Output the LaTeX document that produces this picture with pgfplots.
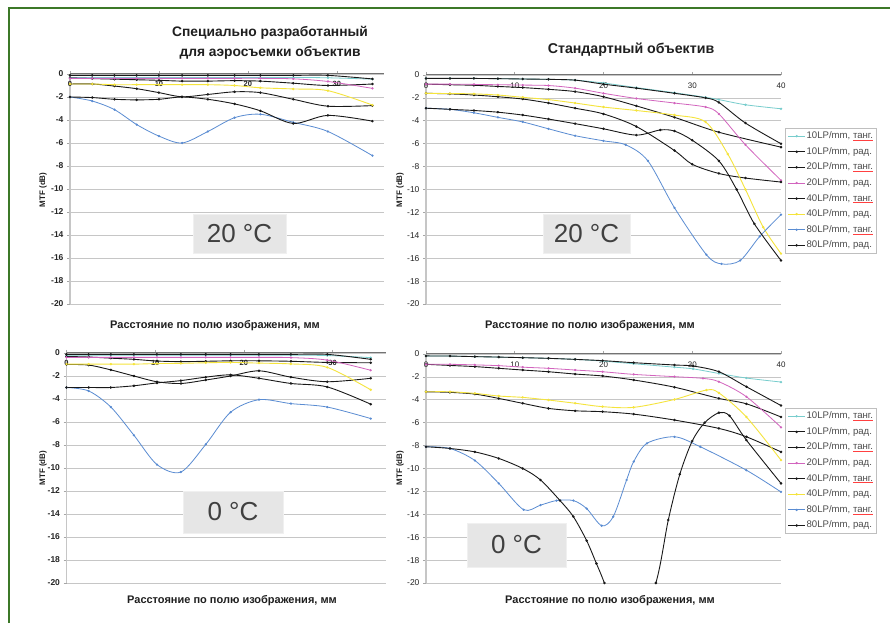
\documentclass[border=0pt]{standalone}
\usepackage{pgfplots}
\pgfplotsset{compat=1.18}
\usepackage{pgfplotstable}
\usepackage{fontspec}
\setmainfont{Liberation Sans}

\definecolor{cC}{RGB}{120,205,205}
\definecolor{cK}{RGB}{25,25,25}
\definecolor{cM}{RGB}{210,100,190}
\definecolor{cY}{RGB}{245,228,60}
\definecolor{cB}{RGB}{90,140,210}
\definecolor{frameG}{RGB}{60,120,40}
\definecolor{boxG}{RGB}{230,230,230}

\pgfplotsset{
  /pgf/number format/assume math mode=true,
  mtf/.style={
    scale only axis,
    ymin=-20, ymax=0,
    ytick={-20,-18,...,0},
    axis y line*=left,
    axis x line*=top,
    x axis line style={black!55, line width=1pt},
    y axis line style={gray!45, line width=1.4pt},
    tick style={gray!70, line width=0.6pt},
    tick align=outside,
    major tick length=3pt,
    ymajorgrids,
    grid style={gray!45, line width=0.6pt},
    xticklabel style={anchor=north, yshift=-7pt},
    clip=true,
  },
  leftp/.style={
    yticklabel style={font=\bfseries\fontsize{8.5}{9}\selectfont, text=black!85},
    xticklabel style={font=\bfseries\fontsize{7.5}{8}\selectfont, text=black!85},
  },
  rightp/.style={
    yticklabel style={font=\fontsize{8.5}{9}\selectfont, text=black!85},
    xticklabel style={font=\fontsize{8}{9}\selectfont, text=black!85},
    legend cell align=left,
    legend style={anchor=north west, draw=gray!50, line width=0.5pt,
      font=\fontsize{9.6}{10}\selectfont, text=black!70,
      nodes={inner sep=1pt, text height=7pt, text depth=2pt},
      row sep=4.6pt, inner sep=2.5pt},
  },
  pk/.style={cK, line width=0.9pt, smooth, mark=*, mark size=0.75pt},
  pc/.style={cC, line width=0.8pt, smooth, mark=*, mark size=0.7pt},
  pm/.style={cM, line width=0.8pt, smooth, mark=*, mark size=0.7pt},
  py/.style={cY, line width=0.9pt, smooth, mark=*, mark size=0.7pt},
  pb/.style={cB, line width=0.8pt, smooth, mark=*, mark size=0.7pt},
}

\newcommand{\tg}{{\color{red!75}\underline{\color{black!70}танг.}}}

% top-left: special lens, 20 C
\pgfplotstableread{
x c10 k10 k20 m20 k40 y40 b80 k80
0    -0.30 -0.12 -0.35 -0.38 -0.87 -0.87 -2.00 -2.00
2.5  -0.30 -0.12 -0.40 -0.38 -0.87 -0.87 -2.35 -2.05
5    -0.30 -0.12 -0.45 -0.38 -1.05 -0.93 -3.10 -2.20
7.5  -0.30 -0.12 -0.50 -0.38 -1.28 -0.93 -4.40 -2.25
10   -0.30 -0.12 -0.55 -0.38 -1.62 -0.93 -5.40 -2.20
12.6 -0.30 -0.12 -0.62 -0.38 -1.98 -0.93 -6.00 -2.00
15.5 -0.30 -0.12 -0.62 -0.38 -1.78 -0.93 -5.00 -2.20
18.5 -0.30 -0.12 -0.58 -0.38 -1.55 -1.00 -3.80 -2.60
21.4 -0.30 -0.12 -0.62 -0.38 -1.62 -1.20 -3.50 -3.20
25.1 -0.30 -0.12 -0.80 -0.42 -2.20 -1.30 -4.20 -4.30
29   -0.33 -0.12 -1.00 -0.65 -2.80 -1.45 -5.00 -3.60
34   -0.45 -0.43 -0.87 -1.25 -2.75 -2.70 -7.10 -4.10
}\tabA

% bottom-left: special lens, 0 C
\pgfplotstableread{
x c10 k10 k20 m20 k40 y40 b80 k80
0    -0.20 -0.12 -0.30 -0.38 -1.00 -0.97 -3.00 -3.00
2.5  -0.20 -0.12 -0.35 -0.38 -1.05 -0.97 -3.30 -3.00
5    -0.20 -0.12 -0.45 -0.38 -1.47 -0.97 -4.70 -3.00
7.6  -0.20 -0.12 -0.55 -0.38 -2.00 -0.97 -7.15 -2.85
10.2 -0.20 -0.12 -0.70 -0.38 -2.50 -0.92 -9.70 -2.60
12.9 -0.20 -0.12 -0.75 -0.38 -2.65 -0.90 -10.35 -2.40
15.7 -0.20 -0.12 -0.72 -0.38 -2.35 -0.85 -7.95 -2.10
18.5 -0.20 -0.12 -0.68 -0.38 -2.00 -0.82 -5.15 -1.90
21.7 -0.20 -0.12 -0.68 -0.38 -1.55 -0.88 -4.06 -2.20
25.3 -0.20 -0.12 -0.72 -0.40 -2.10 -0.95 -4.40 -2.65
29.4 -0.22 -0.12 -0.82 -0.62 -2.50 -1.25 -4.70 -2.95
34.3 -0.40 -0.55 -0.85 -1.50 -2.20 -3.20 -5.70 -4.45
}\tabC

\begin{document}
\begin{tikzpicture}[x=1pt,y=1pt]
\useasboundingbox (0,0) rectangle (890,623);
\fill[white] (0,0) rectangle (890,623);
\draw[frameG, line width=2pt] (8.5,0) -- (8.5,614.5) -- (890,614.5);

% ---------- Panel 1 ----------
\begin{axis}[mtf, leftp, at={(70pt,319pt)}, anchor=south west,
  width=314pt, height=230pt, xmin=0, xmax=35.3, xtick={0,10,20,30}]
\addplot[pc] table[x=x,y=c10]{\tabA};
\addplot[pk] table[x=x,y=k10]{\tabA};
\addplot[pk] table[x=x,y=k20]{\tabA};
\addplot[pm] table[x=x,y=m20]{\tabA};
\addplot[pk] table[x=x,y=k40]{\tabA};
\addplot[py] table[x=x,y=y40]{\tabA};
\addplot[pb] table[x=x,y=b80]{\tabA};
\addplot[pk] table[x=x,y=k80]{\tabA};
\end{axis}

% ---------- Panel 2 ----------
\begin{axis}[mtf, rightp, at={(426pt,319pt)}, anchor=south west,
  width=355pt, height=229pt, xmin=0, xmax=40, xtick={0,10,...,40},
  legend style={at={(1.011,0.769)}}]
\addplot[pc] coordinates {(0,-0.3)(2.7,-0.3)(5.4,-0.3)(8.1,-0.32)(10.9,-0.35)(13.8,-0.38)(16.8,-0.45)(20,-0.7)(23.7,-1.1)(28,-1.55)(31.5,-1.95)(33,-2.15)(36,-2.6)(40,-2.95)};
\addlegendentry{10LP/mm, \tg}
\addplot[pk] coordinates {(0,-0.3)(2.7,-0.3)(5.4,-0.3)(8.1,-0.32)(10.9,-0.35)(13.8,-0.38)(16.8,-0.45)(20,-0.8)(23.7,-1.15)(28,-1.6)(31.5,-2.0)(33,-2.4)(36,-4.2)(40,-6.0)};
\addlegendentry{10LP/mm, рад.}
\addplot[pk] coordinates {(0,-0.8)(2.7,-0.85)(5.4,-0.9)(8.1,-1.0)(10.9,-1.1)(13.8,-1.25)(16.8,-1.45)(20,-1.9)(23.7,-2.7)(28,-3.7)(33,-5.0)(40,-6.3)};
\addlegendentry{20LP/mm, \tg}
\addplot[pm] coordinates {(0,-0.8)(2.7,-0.8)(5.4,-0.82)(8.1,-0.85)(10.9,-0.88)(13.8,-0.92)(16.8,-1.15)(20,-1.6)(23.7,-2.05)(28,-2.45)(31.5,-2.8)(33,-3.4)(36,-6.1)(40,-9.2)};
\addlegendentry{20LP/mm, рад.}
\addplot[pk] coordinates {(0,-1.6)(2.7,-1.65)(5.4,-1.75)(8.1,-1.9)(10.9,-2.1)(13.8,-2.45)(16.8,-2.9)(20,-3.4)(23.7,-4.5)(28,-6.6)(30,-7.8)(33,-8.6)(36,-9.0)(40,-9.35)};
\addlegendentry{40LP/mm, \tg}
\addplot[py] coordinates {(0,-1.6)(2.7,-1.62)(5.4,-1.65)(8.1,-1.75)(10.9,-1.95)(13.8,-2.15)(16.8,-2.45)(20,-2.8)(23.7,-3.1)(28,-3.5)(31.5,-4.1)(34,-6.9)(36,-10.0)(38,-13.3)(40,-15.6)};
\addlegendentry{40LP/mm, рад.}
\addplot[pb] coordinates {(0,-2.9)(2.7,-3.0)(5.4,-3.3)(8.1,-3.7)(10.9,-4.1)(13.8,-4.7)(16.8,-5.3)(20,-5.75)(22.5,-6.1)(25,-7.5)(28,-11.6)(31.6,-15.7)(33.3,-16.5)(35.4,-16.2)(37.6,-14.1)(40,-12.2)};
\addlegendentry{80LP/mm, \tg}
\addplot[pk] coordinates {(0,-2.9)(2.7,-3.0)(5.4,-3.1)(8.1,-3.25)(10.9,-3.5)(13.8,-3.85)(16.8,-4.25)(20,-4.7)(23.7,-5.25)(26.4,-4.8)(28,-4.9)(30,-5.7)(33,-7.5)(35,-10.0)(37,-13.0)(40,-16.2)};
\addlegendentry{80LP/mm, рад.}
\end{axis}

% ---------- Panel 3 ----------
\begin{axis}[mtf, leftp, at={(66.5pt,40pt)}, anchor=south west,
  width=319.3pt, height=230pt, xmin=0, xmax=36, xtick={0,10,20,30}]
\addplot[pc] table[x=x,y=c10]{\tabC};
\addplot[pk] table[x=x,y=k10]{\tabC};
\addplot[pk] table[x=x,y=k20]{\tabC};
\addplot[pm] table[x=x,y=m20]{\tabC};
\addplot[pk] table[x=x,y=k40]{\tabC};
\addplot[py] table[x=x,y=y40]{\tabC};
\addplot[pb] table[x=x,y=b80]{\tabC};
\addplot[pk] table[x=x,y=k80]{\tabC};
\end{axis}

% ---------- Panel 4 ----------
\begin{axis}[mtf, rightp, at={(426pt,40pt)}, anchor=south west,
  width=355pt, height=229pt, xmin=0, xmax=40, xtick={0,10,...,40},
  legend style={at={(1.011,0.764)}}]
\addplot[pc] coordinates {(0,-0.17)(2.7,-0.18)(5.5,-0.23)(8.2,-0.27)(10.9,-0.32)(13.8,-0.38)(16.8,-0.47)(19.9,-0.62)(23.4,-0.85)(28,-1.15)(30.1,-1.3)(33,-1.7)(36.1,-2.1)(40,-2.45)};
\addlegendentry{10LP/mm, \tg}
\addplot[pk] coordinates {(0,-0.17)(2.7,-0.18)(5.5,-0.23)(8.2,-0.27)(10.9,-0.32)(13.8,-0.38)(16.8,-0.47)(19.9,-0.58)(23.4,-0.76)(28,-0.96)(30.1,-1.05)(33,-1.55)(36.1,-2.86)(40,-4.5)};
\addlegendentry{10LP/mm, рад.}
\addplot[pk] coordinates {(0,-0.9)(2.7,-1.0)(5.5,-1.1)(8.2,-1.25)(10.9,-1.4)(13.8,-1.55)(16.8,-1.75)(19.9,-1.92)(23.4,-2.27)(28,-2.9)(33,-3.88)(36.1,-4.35)(40,-5.5)};
\addlegendentry{20LP/mm, \tg}
\addplot[pm] coordinates {(0,-0.9)(2.7,-0.9)(5.5,-0.95)(8.2,-1.02)(10.9,-1.15)(13.8,-1.25)(16.8,-1.4)(19.9,-1.55)(23.4,-1.78)(28,-1.98)(31.2,-2.13)(33,-2.42)(36.1,-3.73)(40,-6.4)};
\addlegendentry{20LP/mm, рад.}
\addplot[pk] coordinates {(0,-3.3)(2.7,-3.35)(5.5,-3.5)(8.2,-3.88)(10.9,-4.31)(13.8,-4.75)(16.8,-4.96)(19.9,-5.04)(23.4,-5.25)(28,-5.77)(33,-6.5)(36.1,-7.23)(40,-8.55)};
\addlegendentry{40LP/mm, \tg}
\addplot[py] coordinates {(0,-3.3)(2.7,-3.3)(5.5,-3.44)(8.2,-3.67)(10.9,-3.79)(13.8,-4.02)(16.8,-4.3)(19.9,-4.6)(23.4,-4.66)(28,-3.97)(31.6,-3.15)(33,-3.4)(36.1,-5.5)(40,-9.27)};
\addlegendentry{40LP/mm, рад.}
\addplot[pb] coordinates {(0,-8.1)(2.7,-8.25)(5.5,-9.3)(8.2,-11.3)(11,-13.6)(12.9,-13.2)(14.7,-12.8)(16.6,-12.8)(18.1,-13.5)(19.8,-15.0)(21.1,-14.2)(22.6,-11.0)(23.4,-9.4)(24.9,-7.8)(28,-7.23)(30.9,-8.1)(36.1,-10.15)(40,-12.05)};
\addlegendentry{80LP/mm, \tg}
\addplot[pk] coordinates {(0,-8.1)(2.7,-8.25)(5.5,-8.55)(8.2,-9.12)(10.9,-10.0)(12.9,-11.0)(15.1,-12.8)(16.6,-14.2)(18.1,-16.3)(19.2,-18.3)(20.1,-20)(23,-26)(25.9,-20)(27.3,-14.5)(28.6,-10.5)(30,-7.6)(31.4,-6.0)(33,-5.13)(34.2,-5.4)(36.1,-7.52)(40,-11.3)};
\addlegendentry{80LP/mm, рад.}
\end{axis}

% ---------- Texts ----------
\begin{scope}[every node/.style={text=black!88}]
\node[font=\bfseries\fontsize{13.8}{15}\selectfont] at (270,590) {Специально разработанный};
\node[font=\bfseries\fontsize{13.8}{15}\selectfont] at (270,570) {для аэросъемки объектив};
\node[font=\bfseries\fontsize{14.2}{15}\selectfont] at (631,573) {Стандартный объектив};
\foreach \px/\py in {215/297, 590/297, 232/22, 610/22}
  \node[font=\bfseries\fontsize{11}{12}\selectfont] at (\px,\py) {Расстояние по полю изображения, мм};
\foreach \px/\py in {43/433, 400/433, 43/155, 400/155}
  \node[font=\bfseries\fontsize{8}{9}\selectfont, rotate=90] at (\px,\py) {MTF (dB)};
\end{scope}

\tikzset{tbox/.style={fill=boxG, draw=gray!12, line width=0.6pt, inner sep=0pt,
  font=\fontsize{26}{28}\selectfont, text=black!75}}
\node[tbox, minimum width=93pt, minimum height=39pt] at (239.5,389.5) {20 °C};
\node[tbox, minimum width=87pt, minimum height=39pt] at (586.5,389.5) {20 °C};
\node[tbox, minimum width=100pt, minimum height=42pt] at (233,111) {0 °C};
\node[tbox, minimum width=99pt, minimum height=44pt] at (516.5,78) {0 °C};
\end{tikzpicture}
\end{document}
